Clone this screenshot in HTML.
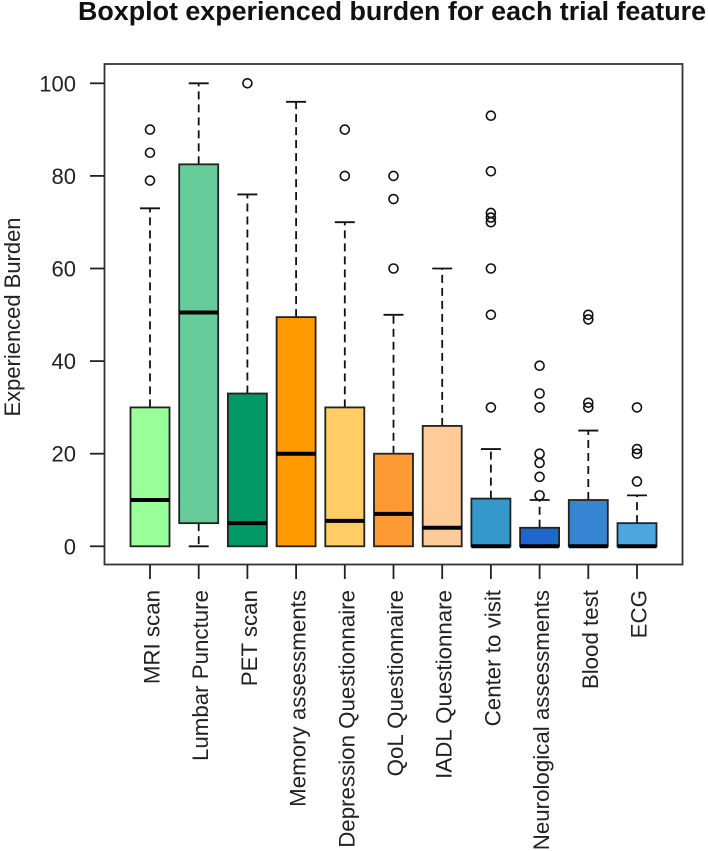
<!DOCTYPE html>
<html>
<head>
<meta charset="utf-8">
<title>Boxplot experienced burden for each trial feature</title>
<style>
html,body{margin:0;padding:0;background:#fff;width:708px;height:851px;overflow:hidden}
svg{display:block;font-family:"Liberation Sans",Arial,sans-serif;filter:blur(0.35px)}
</style>
</head>
<body>
<svg id="chart" xmlns="http://www.w3.org/2000/svg" width="708" height="851" viewBox="0 0 708 851"></svg>
<script>
const categories = ["MRI scan","Lumbar Puncture","PET scan","Memory assessments","Depression Questionnaire","QoL Questionnaire","IADL Questionnare","Center to visit","Neurological assessments","Blood test","ECG"];
const whiskerLow = [0,0,0,0,0,0,0,0,0,0,0];
const q1 = [0,5,0,0,0,0,0,0,0,0,0];
const median = [10,50.5,5,20,5.5,7,4,0,0,0,0];
const q3 = [30,82.5,33,49.5,30,20,26,10.3,4,10,5];
const whiskerHigh = [73,100,76,96,70,50,60,21,10,25,11];
const outliers = [[79,85,90],[],[100],[],[80,90],[60,75,80],[],[30,50,60,70,71,72,81,93],[11,15,18,20,30,33,39],[30,31,49,50],[14,20,21,30]];
const colors = ["#99FF99","#66CC99","#009966","#FF9900","#FFCC66","#FF9933","#FFCC99","#3399CC","#2066CC","#3685D3","#4DA6DE"];
const yTicks = [0,20,40,60,80,100];

const svg = document.getElementById('chart');
const NS = 'http://www.w3.org/2000/svg';
const INK = '#222';
const yScale = v => 546.3 - v * 4.63;
const xScale = i => 150 + i * 48.7;
const BOX_HALF = 19.5, CAP_HALF = 10;

function make(tag, attrs, parent) {
  const el = document.createElementNS(NS, tag);
  for (const k in attrs) el.setAttribute(k, attrs[k]);
  (parent || svg).appendChild(el);
  return el;
}

const title = make('text', {x: 78, y: 20, 'font-size': 25.5, 'font-weight': 'bold', fill: '#111', textLength: 628, lengthAdjust: 'spacingAndGlyphs'});
title.textContent = 'Boxplot experienced burden for each trial feature';



const yTitle = make('text', {transform: 'translate(20,317) rotate(-90)', 'text-anchor': 'middle', 'font-size': 22, fill: INK, textLength: 199, lengthAdjust: 'spacingAndGlyphs'});
yTitle.textContent = 'Experienced Burden';



const frame = make('rect', {x: 104.5, y: 64, width: 578, height: 500.5, fill: 'none', stroke: '#333', 'stroke-width': 1.8});



yTicks.forEach(t => {
  const tick = make('line', {x1: 90, x2: 104.5, y1: yScale(t), y2: yScale(t), stroke: '#222', 'stroke-width': 1.8});
  
  
  const label = make('text', {x: 76, y: yScale(t) + 8, 'text-anchor': 'end', 'font-size': 22, fill: INK});
  label.textContent = t;
  
  
});

categories.forEach((name, i) => {
  const x = xScale(i);
  const g = make('g', {});
  
  

  const tick = make('line', {x1: x, x2: x, y1: 564.5, y2: 579, stroke: '#222', 'stroke-width': 1.8}, g);
  
  

  const label = make('text', {transform: 'translate(' + (x + 9.5) + ',590) rotate(-90)', 'text-anchor': 'end', 'font-size': 22.3, fill: INK}, g);
  label.textContent = name;
  
  

  const dash = {stroke: '#111', 'stroke-width': 1.8, 'stroke-dasharray': '8 5'};
  if (whiskerHigh[i] > q3[i]) {
    const up = make('line', Object.assign({x1: x, x2: x, y1: yScale(q3[i]), y2: yScale(whiskerHigh[i])}, dash), g);
    
    
    const cap = make('line', {x1: x - CAP_HALF, x2: x + CAP_HALF, y1: yScale(whiskerHigh[i]), y2: yScale(whiskerHigh[i]), stroke: '#111', 'stroke-width': 1.8}, g);
    
    
  }
  if (whiskerLow[i] < q1[i]) {
    const down = make('line', Object.assign({x1: x, x2: x, y1: yScale(q1[i]), y2: yScale(whiskerLow[i])}, dash), g);
    
    
    const cap = make('line', {x1: x - CAP_HALF, x2: x + CAP_HALF, y1: yScale(whiskerLow[i]), y2: yScale(whiskerLow[i]), stroke: '#111', 'stroke-width': 1.8}, g);
    
    
  }

  const box = make('rect', {x: x - BOX_HALF, y: yScale(q3[i]), width: BOX_HALF * 2, height: yScale(q1[i]) - yScale(q3[i]), fill: colors[i], stroke: '#222', 'stroke-width': 1.8}, g);
  
  

  const med = make('line', {x1: x - BOX_HALF, x2: x + BOX_HALF, y1: yScale(median[i]), y2: yScale(median[i]), stroke: '#000', 'stroke-width': 4}, g);
  
  

  outliers[i].forEach(v => {
    const dot = make('circle', {cx: x, cy: yScale(v), r: 4.5, fill: 'none', stroke: '#111', 'stroke-width': 1.6}, g);
    
    
  });
});
</script>
</body>
</html>
